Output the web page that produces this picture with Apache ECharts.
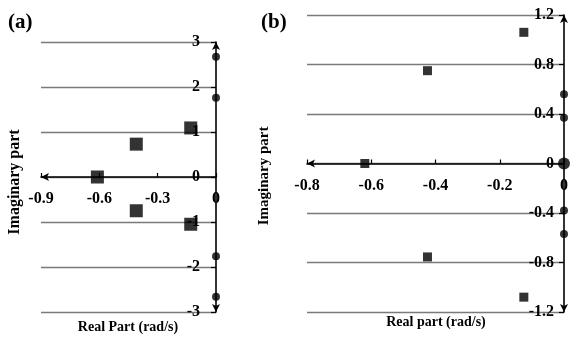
<!DOCTYPE html>
<html>
<head>
<meta charset="utf-8">
<script src="https://cdn.jsdelivr.net/npm/echarts@6/dist/echarts.min.js"></script>
<style>html,body{margin:0;padding:0;background:#fff}#c{width:572px;height:339px}</style>
</head>
<body>
<div id="c"></div>
<script>
// Panel (a)
var aSquares = [[-0.61, 0], [-0.41, 0.73], [-0.13, 1.09], [-0.41, -0.75], [-0.13, -1.05]];
var aCircles = [[0, 2.67], [0, 1.76], [0, -1.76], [0, -2.66]];
var aXTicks = [-0.9, -0.6, -0.3, 0];
var aYTicks = [-3, -2, -1, 0, 1, 2, 3];
// Panel (b)
var bSquares = [[-0.62, 0], [-0.425, 0.75], [-0.125, 1.06], [-0.425, -0.755], [-0.125, -1.08]];
var bCircles = [[0, 0.56], [0, 0.37], [0, -0.38], [0, -0.57]];
var bOrigin = [[0, 0]];
var bXTicks = [-0.8, -0.6, -0.4, -0.2, 0];
var bYTicks = [-1.2, -0.8, -0.4, 0, 0.4, 0.8, 1.2];

var FONT = '"Liberation Serif", "Times New Roman", serif';
var chart = echarts.init(document.getElementById('c'), null, {renderer: 'canvas'});

var grids = [
  {left: 41, top: 42, width: 175, height: 270},
  {left: 307, top: 15, width: 257, height: 297}
];
var yLabelMargin = [16, 10];

function fmt(v) {
  return String(Math.round(v * 10) / 10);
}
function xAxisCfg(idx, ticks, yTicks) {
  var ymin = yTicks[0], ymax = yTicks[yTicks.length - 1];
  var zeroOffset = -grids[idx].height * (0 - ymin) / (ymax - ymin);
  return {
    type: 'value', gridIndex: idx, position: 'bottom', offset: zeroOffset,
    min: ticks[0], max: ticks[ticks.length - 1],
    interval: Math.round((ticks[1] - ticks[0]) * 10) / 10,
    axisLine: {onZero: false, symbol: ['arrow', 'none'], symbolSize: [6, 8], lineStyle: {color: '#000', width: 1.6}},
    axisTick: {show: true, inside: true, length: 4, lineStyle: {color: '#000', width: 1.2}},
    axisLabel: {color: '#000', fontFamily: FONT, fontWeight: 'bold', fontSize: 16, margin: 14, formatter: fmt},
    splitLine: {show: false}
  };
}
function yAxisCfg(idx, ticks) {
  return {
    type: 'value', gridIndex: idx, position: 'right',
    min: ticks[0], max: ticks[ticks.length - 1],
    interval: Math.round((ticks[1] - ticks[0]) * 10) / 10,
    axisLine: {onZero: false, symbol: ['arrow', 'arrow'], symbolSize: [6, 8], lineStyle: {color: '#000', width: 1.6}},
    axisTick: {show: true, inside: true, length: 5, lineStyle: {color: '#000', width: 1.2}},
    axisLabel: {inside: true, color: '#000', fontFamily: FONT, fontWeight: 'bold', fontSize: 16, margin: yLabelMargin[idx], formatter: fmt},
    splitLine: {show: true, lineStyle: {color: '#7a7a7a', width: 1.4}}
  };
}

chart.setOption({
  animation: false,
  backgroundColor: '#fff',
  grid: grids,
  xAxis: [xAxisCfg(0, aXTicks, aYTicks), xAxisCfg(1, bXTicks, bYTicks)],
  yAxis: [yAxisCfg(0, aYTicks), yAxisCfg(1, bYTicks)],
  series: [
    {type: 'scatter', z: 10, xAxisIndex: 0, yAxisIndex: 0, data: aSquares, symbol: 'rect', symbolSize: 13, itemStyle: {color: '#000'}},
    {type: 'scatter', z: 10, xAxisIndex: 0, yAxisIndex: 0, data: aCircles, symbol: 'circle', symbolSize: 8, itemStyle: {color: '#000'}},
    {type: 'scatter', z: 10, xAxisIndex: 1, yAxisIndex: 1, data: bSquares, symbol: 'rect', symbolSize: 9, itemStyle: {color: '#000'}},
    {type: 'scatter', z: 10, xAxisIndex: 1, yAxisIndex: 1, data: bCircles, symbol: 'circle', symbolSize: 8, itemStyle: {color: '#000'}},
    {type: 'scatter', z: 10, xAxisIndex: 1, yAxisIndex: 1, data: bOrigin, symbol: 'circle', symbolSize: 12, itemStyle: {color: '#000'}}
  ],
  graphic: [
    {type: 'text', left: 8, top: 12, style: {text: '(a)', font: 'bold 21px ' + FONT, fill: '#000'}},
    {type: 'text', left: 261, top: 12, style: {text: '(b)', font: 'bold 21px ' + FONT, fill: '#000'}},
    {type: 'text', x: 15, y: 182, rotation: Math.PI / 2, style: {text: 'Imaginary part', font: 'bold 16px ' + FONT, fill: '#000', align: 'center', verticalAlign: 'middle'}},
    {type: 'text', x: 264, y: 176, rotation: Math.PI / 2, style: {text: 'Imaginary part', font: 'bold 15px ' + FONT, fill: '#000', align: 'center', verticalAlign: 'middle'}},
    {type: 'text', x: 128, y: 327, style: {text: 'Real Part (rad/s)', font: 'bold 14px ' + FONT, fill: '#000', align: 'center', verticalAlign: 'middle'}},
    {type: 'text', x: 436, y: 322, style: {text: 'Real part (rad/s)', font: 'bold 14px ' + FONT, fill: '#000', align: 'center', verticalAlign: 'middle'}}
  ]
});
</script>
</body>
</html>
